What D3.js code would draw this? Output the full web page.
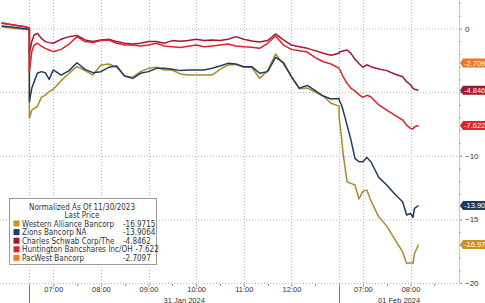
<!DOCTYPE html>
<html>
<head>
<meta charset="utf-8">
<script src="https://cdn.jsdelivr.net/npm/d3@7/dist/d3.min.js"></script>
<style>
  body { margin: 0; background: #fff; }
  svg { display: block; font-family: "Liberation Sans", Arial, sans-serif; }
  .legend text { font-family: "Liberation Sans Narrow", "DejaVu Sans Condensed", "Liberation Sans", sans-serif; }
</style>
</head>
<body>
<div id="chart"></div>
<script>
// ---- data ----
const times = [
  "2024-01-30 12:25", "2024-01-30 12:40", "2024-01-30 12:55", "2024-01-30 13:00",
  "2024-01-31 06:30", "2024-01-31 06:33", "2024-01-31 06:36", "2024-01-31 06:40", "2024-01-31 06:45",
  "2024-01-31 06:50", "2024-01-31 06:55", "2024-01-31 07:00", "2024-01-31 07:10", "2024-01-31 07:20",
  "2024-01-31 07:30", "2024-01-31 07:40", "2024-01-31 07:50", "2024-01-31 08:00", "2024-01-31 08:10",
  "2024-01-31 08:20", "2024-01-31 08:30", "2024-01-31 08:40", "2024-01-31 08:50", "2024-01-31 09:00",
  "2024-01-31 09:10", "2024-01-31 09:20", "2024-01-31 09:30", "2024-01-31 09:40", "2024-01-31 09:50",
  "2024-01-31 10:00", "2024-01-31 10:10", "2024-01-31 10:20", "2024-01-31 10:30", "2024-01-31 10:40",
  "2024-01-31 10:50", "2024-01-31 11:00", "2024-01-31 11:10", "2024-01-31 11:20", "2024-01-31 11:30",
  "2024-01-31 11:40", "2024-01-31 11:50", "2024-01-31 12:00", "2024-01-31 12:10", "2024-01-31 12:20",
  "2024-01-31 12:30", "2024-01-31 12:40", "2024-01-31 12:50", "2024-01-31 13:00",
  "2024-02-01 06:30", "2024-02-01 06:33", "2024-02-01 06:35", "2024-02-01 06:40", "2024-02-01 06:45",
  "2024-02-01 06:50", "2024-02-01 06:55", "2024-02-01 07:00", "2024-02-01 07:05", "2024-02-01 07:10",
  "2024-02-01 07:20", "2024-02-01 07:30", "2024-02-01 07:40", "2024-02-01 07:50", "2024-02-01 07:55",
  "2024-02-01 08:00", "2024-02-01 08:03", "2024-02-01 08:05", "2024-02-01 08:10"
];

const westernAlliance = [
  0.14, 0.01, -0.07, -0.10,
  -7.06, -6.41, -6.28, -6.15, -5.41, -5.23, -4.96,
  -4.78, -4.10, -3.52, -3.00, -3.31, -3.66, -2.87, -2.79, -3.05, -3.74, -3.84, -3.39,
  -3.13, -3.05, -3.26, -3.26, -3.57, -3.66, -3.66, -3.66, -3.66, -3.21, -2.87, -2.82,
  -3.05, -3.05, -3.92, -3.31, -2.00, -2.79, -3.79, -4.73, -4.68, -4.99, -5.31, -5.88, -6.10,
  -7.00, -8.50, -9.80, -12.04, -12.17, -12.30, -13.40, -12.80, -12.70, -13.53,
  -14.80, -15.53, -16.55, -17.55, -18.46, -18.40, -18.46, -17.68, -16.97
];
const zions = [
  0.20, 0.09, -0.02, -0.05,
  -5.75, -4.70, -4.18, -3.52, -3.39, -3.47, -4.00,
  -3.26, -3.66, -3.31, -2.69, -3.21, -3.47, -3.39, -3.05, -2.95, -3.74, -3.92, -3.52,
  -3.39, -3.13, -3.13, -3.21, -3.31, -3.26, -3.26, -3.26, -3.13, -2.95, -2.74, -2.79,
  -3.00, -3.00, -3.52, -3.39, -2.27, -2.69, -3.79, -4.70, -4.47, -4.88, -5.31, -5.54, -5.50,
  -5.62, -6.01, -6.41, -7.59, -8.77, -10.21, -10.47, -10.47, -10.13, -10.47,
  -11.70, -12.30, -13.01, -13.61, -14.66, -14.53, -14.84, -14.14, -13.91
];
const schwab = [
  0.41, 0.28, 0.14, 0.05,
  -2.00, -1.03, -0.51, -0.38, -0.77, -1.03, -1.11,
  -1.16, -0.85, -0.64, -0.54, -0.90, -1.03, -0.90, -0.85, -1.03, -1.16, -1.22, -1.16,
  -1.03, -1.03, -1.16, -0.95, -1.00, -0.95, -0.85, -0.95, -0.90, -0.95, -0.85, -0.64,
  -0.85, -0.98, -1.06, -0.95, -0.43, -0.90, -1.30, -1.43, -1.56, -1.74, -1.95, -2.11, -1.95,
  -1.85, -1.80, -1.77, -1.69, -1.95, -2.42, -2.75, -3.05, -2.85, -3.00,
  -3.18, -3.31, -3.58, -3.79, -4.18, -4.44, -4.70, -4.78, -4.85
];
const huntington = [
  0.45, 0.28, 0.14, 0.05,
  -3.40, -1.82, -1.30, -1.16, -1.38, -1.56, -1.69,
  -1.82, -1.64, -1.22, -0.64, -1.03, -1.11, -0.95, -0.90, -1.16, -1.30, -1.30, -1.38,
  -1.30, -1.16, -1.38, -1.43, -1.50, -1.40, -1.30, -1.43, -1.38, -1.30, -1.22, -1.38,
  -1.43, -1.48, -1.56, -1.16, -0.59, -1.30, -1.64, -1.74, -1.85, -2.29, -2.61, -2.79, -3.13,
  -3.13, -3.50, -3.79, -4.31, -4.70, -4.91, -5.20, -5.41, -5.25, -5.36,
  -6.01, -6.41, -6.80, -7.19, -7.59, -7.85, -7.90, -7.72, -7.62
];
const pacWest = []; // no line visible in the window

const seriesNames = [
  "Western Alliance Bancorp", "Zions Bancorp NA", "Charles Schwab Corp/The",
  "Huntington Bancshares Inc/OH", "PacWest Bancorp"
];
const lastPrices = [-16.9715, -13.9064, -4.8462, -7.622, -2.7097];
const lastPriceLabels = ["-16.97", "-13.90", "-4.846", "-7.622", "-2.709"];
const seriesValues = [westernAlliance, zions, schwab, huntington, pacWest];
const lineColors = ["#a88c2a", "#1f3c60", "#a3172f", "#e2212b", "#e8782a"];
const boxColors = ["#c8921f", "#1f3c60", "#a3172f", "#e2212b", "#e8782a"];

const yTicks = [0, -5, -10, -15, -20];
const xTickTimes = [
  "2024-01-31 07:00", "2024-01-31 08:00", "2024-01-31 09:00", "2024-01-31 10:00",
  "2024-01-31 11:00", "2024-01-31 12:00", "2024-02-01 07:00", "2024-02-01 08:00"
];
const sessions = [
  { day: "2024-01-30", open: "06:30", close: "13:00" },
  { day: "2024-01-31", open: "06:30", close: "13:00", label: "31 Jan 2024" },
  { day: "2024-02-01", open: "06:30", close: "13:00", label: "01 Feb 2024" }
];
const viewStart = "2024-01-30 12:23";
const viewEnd = "2024-02-01 09:01";

// ---- helpers: trading-minute clock that skips the overnight gaps ----
const hm = (s) => { const [h, m] = s.split(":").map(Number); return h * 60 + m; };
function tradingMinute(stamp) {
  const [day, time] = stamp.split(" ");
  let acc = 0;
  for (const s of sessions) {
    const len = hm(s.close) - hm(s.open);
    if (s.day === day) return acc + Math.min(len, Math.max(0, hm(time) - hm(s.open)));
    acc += len;
  }
  return acc;
}

// ---- layout ----
const W = 485, H = 303;
const plot = { left: 0, right: 459, top: 0, bottom: 284 };

const svg = d3.select("#chart").append("svg").attr("width", W).attr("height", H);

const x = d3.scaleLinear()
  .domain([tradingMinute(viewStart), tradingMinute(viewEnd)])
  .range([plot.left, plot.right]);
const y = d3.scaleLinear().domain([-20, 0]).range([283, 28.5]);

// clip for lines
svg.append("defs").append("clipPath").attr("id", "plot-clip")
  .append("rect").attr("x", plot.left).attr("y", plot.top)
  .attr("width", plot.right - plot.left).attr("height", plot.bottom - plot.top);

// horizontal gridlines
svg.append("g").selectAll("line").data(yTicks).join("line")
  .attr("x1", plot.left).attr("x2", plot.right)
  .attr("y1", (d) => y(d) + 0.5).attr("y2", (d) => y(d) + 0.5)
  .attr("stroke", "#b8b8b8").attr("stroke-dasharray", "1,2");

// vertical gridlines at hours
svg.append("g").selectAll("line").data(xTickTimes).join("line")
  .attr("x1", (d) => Math.round(x(tradingMinute(d))) + 0.5)
  .attr("x2", (d) => Math.round(x(tradingMinute(d))) + 0.5)
  .attr("y1", plot.top).attr("y2", plot.bottom)
  .attr("stroke", "#b8b8b8").attr("stroke-dasharray", "1,2");

// session separators
const sepX = sessions.slice(1).map((s) => x(tradingMinute(s.day + " " + s.open)));
const sepG = svg.append("g");
sepX.forEach((sx) => {
  const px = Math.round(sx) + 0.5;
  sepG.append("line").attr("x1", px).attr("x2", px).attr("y1", plot.top).attr("y2", plot.bottom)
    .attr("stroke", "#b8b8b8").attr("stroke-dasharray", "1,2");
  sepG.append("line").attr("x1", px).attr("x2", px).attr("y1", plot.bottom).attr("y2", H)
    .attr("stroke", "#777");
});

// bottom axis: hour ticks + half-hour minor ticks
const xAxis = d3.axisBottom(x)
  .tickValues(xTickTimes.map(tradingMinute))
  .tickFormat((d, i) => xTickTimes[i].split(" ")[1])
  .tickSize(3).tickPadding(0);
const xAxisG = svg.append("g").attr("transform", `translate(0,${plot.bottom})`).call(xAxis);
xAxisG.select(".domain").remove();
xAxisG.selectAll(".tick line").attr("stroke", "#999");
xAxisG.selectAll(".tick text").attr("font-size", 7.5).attr("fill", "#333");

const halfHours = xTickTimes.map((t) => tradingMinute(t) - 30).concat(xTickTimes.map((t) => tradingMinute(t) + 30));
svg.append("g").selectAll("line").data(halfHours.filter((m) => x(m) > 2 && x(m) < plot.right - 2)).join("line")
  .attr("x1", (d) => Math.round(x(d)) + 0.5).attr("x2", (d) => Math.round(x(d)) + 0.5)
  .attr("y1", plot.bottom).attr("y2", plot.bottom + 2).attr("stroke", "#999");

// date labels under each session
svg.append("g").selectAll("text").data(sessions.filter((s) => s.label)).join("text")
  .attr("x", (s) => {
    const a = x(tradingMinute(s.day + " " + s.open));
    const b = Math.min(plot.right, x(tradingMinute(s.day + " " + s.close)));
    return (a + b) / 2;
  })
  .attr("y", 302.5).attr("text-anchor", "middle").attr("font-size", 7.5).attr("fill", "#333")
  .text((s) => s.label);

// right axis (tick labels hidden where a last-price tag covers them)
const covered = (v) => lastPrices.some((p) => Math.abs(y(p) - y(v)) < 7);
const yAxis = d3.axisRight(y).tickValues(yTicks)
  .tickFormat((d) => (covered(d) ? "" : d3.format("d")(d)))
  .tickSize(3).tickPadding(3);
const yAxisG = svg.append("g").attr("transform", `translate(${plot.right},0)`).call(yAxis);
yAxisG.select(".domain").remove();
yAxisG.selectAll(".tick line").attr("stroke", "#888");
yAxisG.selectAll(".tick text").attr("font-size", 8).attr("fill", "#333");
svg.append("line").attr("x1", plot.right + 0.5).attr("x2", plot.right + 0.5)
  .attr("y1", 0).attr("y2", plot.bottom).attr("stroke", "#c8c8c8");
svg.append("g").selectAll("line").data(d3.range(-20, 3, 1)).join("line")
  .attr("x1", plot.right).attr("x2", plot.right + 2)
  .attr("y1", (d) => y(d) + 0.5).attr("y2", (d) => y(d) + 0.5).attr("stroke", "#aaa");

// lines
const line = d3.line()
  .x((d) => x(tradingMinute(d.t)))
  .y((d) => y(d.v));
const linesG = svg.append("g").attr("clip-path", "url(#plot-clip)");
// draw back to front so the reds sit above the blues
[0, 1, 2, 3, 4].forEach((i) => {
  const pts = seriesValues[i].map((v, k) => ({ t: times[k], v }));
  if (!pts.length) return;
  linesG.append("path").datum(pts)
    .attr("fill", "none").attr("stroke", lineColors[i]).attr("stroke-width", 1.5)
    .attr("stroke-linejoin", "round").attr("d", line);
});

// last-price tags on the right axis
const tagG = svg.append("g");
lastPrices.forEach((v, i) => {
  const cy = y(v);
  const g = tagG.append("g").attr("transform", `translate(${plot.right + 1},${cy})`);
  g.append("path").attr("d", "M0,0 L3,-4.5 L40,-4.5 L40,4.5 L3,4.5 Z").attr("fill", boxColors[i]);
  g.append("text").attr("x", 4).attr("y", 3).attr("font-size", 7.5).attr("fill", "#fff")
    .text(lastPriceLabels[i]);
});

// legend
const legend = svg.append("g").attr("class", "legend");
legend.append("rect").attr("x", 9.5).attr("y", 198.5).attr("width", 147).attr("height", 66)
  .attr("fill", "#fff").attr("stroke", "#999");
legend.append("text").attr("x", 82).attr("y", 209.5).attr("text-anchor", "middle")
  .attr("font-size", 8).attr("fill", "#333").text("Normalized As Of 11/30/2023");
legend.append("text").attr("x", 82).attr("y", 218).attr("text-anchor", "middle")
  .attr("font-size", 8).attr("fill", "#333").text("Last Price");
seriesNames.forEach((name, i) => {
  const ry = 223.5 + i * 8.6;
  legend.append("rect").attr("x", 13.5).attr("y", ry - 3).attr("width", 6).attr("height", 6)
    .attr("fill", boxColors[i]);
  const t = legend.append("text").attr("x", 22).attr("y", ry + 3)
    .attr("font-size", 8).attr("fill", "#333").text(name);
  const end = 22 + t.node().getComputedTextLength();
  legend.append("text").attr("x", Math.max(123, end + 3)).attr("y", ry + 3)
    .attr("font-size", 8).attr("fill", "#333").text(lastPrices[i]);
});
</script>
</body>
</html>
